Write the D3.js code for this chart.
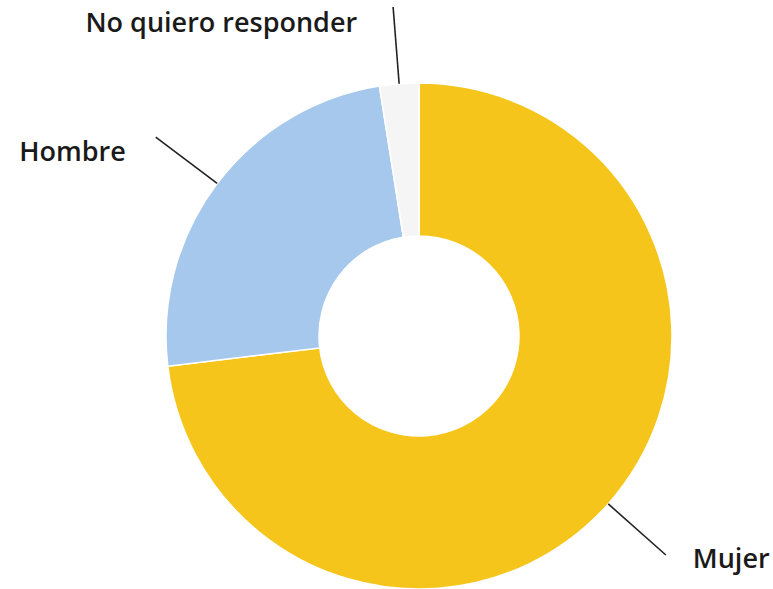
<!DOCTYPE html>
<html>
<head>
<meta charset="utf-8">
<script src="https://cdn.jsdelivr.net/npm/d3@7"></script>
<style>
  body { margin: 0; background: #fff; }
  svg text { font-family: "Open Sans", sans-serif; font-weight: 600; fill: #1a1a1a; }
</style>
</head>
<body>
<svg id="chart" width="773" height="589"></svg>
<script>
// chart values (percent)
var categories = ["Mujer", "Hombre", "No quiero responder"];
var values = [73.1, 24.4, 2.5];
var colors = ["#f6c51b", "#a5c8ec", "#f5f5f5"];

// label offsets from the end of each leader line
var labelDx = [27, -30, -36];
var labelDy = [13, 24, 25];
var labelAnchor = ["start", "end", "end"];

var svg = d3.select("#chart");
var cx = 419, cy = 336;
var g = svg.append("g").attr("transform", "translate(" + cx + "," + cy + ")");

var pie = d3.pie().sort(null).value(function(d){ return d; });
var arcs = pie(values);

var arc = d3.arc().innerRadius(100).outerRadius(253);
var rimArc = d3.arc().innerRadius(253).outerRadius(253);
var farArc = d3.arc().innerRadius(330).outerRadius(330);

g.selectAll("path.slice")
  .data(arcs)
  .enter()
  .append("path")
  .attr("class", "slice")
  .attr("d", arc)
  .attr("fill", function(d, i){ return colors[i]; })
  .attr("stroke", "#fff")
  .attr("stroke-width", 1.5);

// leader lines from the rim out to the labels
g.selectAll("line.leader")
  .data(arcs)
  .enter()
  .append("line")
  .attr("class", "leader")
  .attr("x1", function(d){ return rimArc.centroid(d)[0]; })
  .attr("y1", function(d){ return rimArc.centroid(d)[1]; })
  .attr("x2", function(d){ return farArc.centroid(d)[0]; })
  .attr("y2", function(d){ return farArc.centroid(d)[1]; })
  .attr("stroke", "#222")
  .attr("stroke-width", 1.6);

g.selectAll("text.lbl")
  .data(arcs)
  .enter()
  .append("text")
  .attr("class", "lbl")
  .attr("x", function(d, i){ return farArc.centroid(d)[0] + labelDx[i]; })
  .attr("y", function(d, i){ return farArc.centroid(d)[1] + labelDy[i]; })
  .attr("text-anchor", function(d, i){ return labelAnchor[i]; })
  .style("font-size", "27px")
  .text(function(d, i){ return categories[i]; });
</script>
</body>
</html>
